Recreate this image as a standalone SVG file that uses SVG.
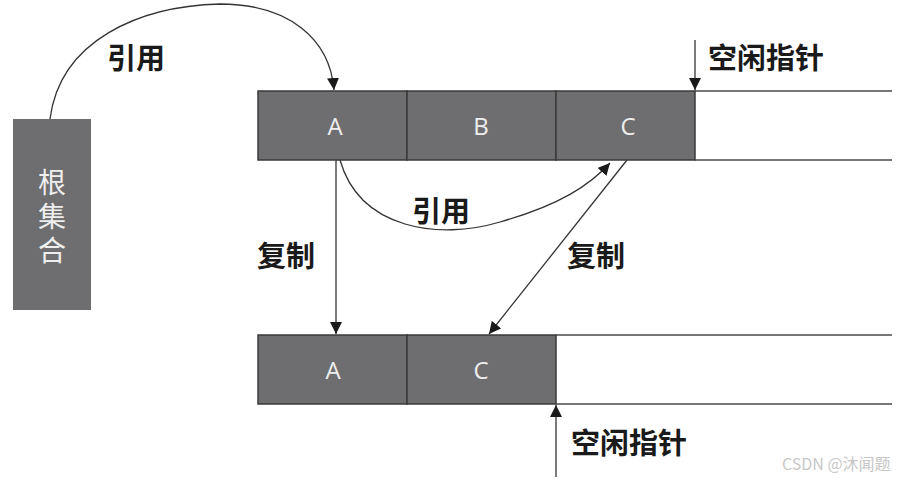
<svg xmlns="http://www.w3.org/2000/svg" width="904" height="479" viewBox="0 0 904 479">
<defs>
<marker id="ah" viewBox="0 0 10 10" refX="10" refY="5" markerWidth="12" markerHeight="12" markerUnits="userSpaceOnUse" orient="auto">
<path d="M0,0 L10,5 L0,10 z" fill="#1a1a1a"/>
</marker>
<style>
.blk{fill:#6e6e70;stroke:#3a3a3a;stroke-width:1.5}
.bt{fill:#eeeeee;font-family:"Open Sans","Liberation Sans",sans-serif;font-size:24px;text-anchor:middle}
.lbl{fill:#1a1a1a;font-family:"Noto Sans CJK SC",sans-serif;font-size:29px;font-weight:bold}
.rt{fill:#eeeeee;font-family:"Noto Sans CJK SC",sans-serif;font-size:28px;text-anchor:middle;writing-mode:vertical-rl;letter-spacing:6px}
.rl{stroke:#777;stroke-width:2;fill:none}
.cn{stroke:#333;stroke-width:1.3;fill:none;marker-end:url(#ah)}
</style>
</defs>
<rect width="904" height="479" fill="#ffffff"/>
<g id="rails">
<line class="rl" x1="695" y1="91" x2="892" y2="91"/>
<line class="rl" x1="695" y1="160" x2="892" y2="160"/>
<line class="rl" x1="556" y1="335" x2="892" y2="335"/>
<line class="rl" x1="556" y1="404" x2="892" y2="404"/>
</g>
<g id="root">
<rect x="13" y="119" width="78" height="191" fill="#6e6e70"/>
<text class="rt" x="52" y="219">根集合</text>
</g>
<g id="topA"><rect class="blk" x="258" y="91" width="149" height="69"/><text class="bt" x="335" y="135">A</text></g>
<g id="topB"><rect class="blk" x="407" y="91" width="149" height="69"/><text class="bt" x="481" y="135">B</text></g>
<g id="topC"><rect class="blk" x="556" y="91" width="139" height="69"/><text class="bt" x="628" y="135">C</text></g>
<g id="botA"><rect class="blk" x="258" y="335" width="149" height="69"/><text class="bt" x="333" y="379">A</text></g>
<g id="botC"><rect class="blk" x="407" y="335" width="149" height="69"/><text class="bt" x="481" y="379">C</text></g>
<g id="connectors">
<path class="cn" d="M50,119 C60,40 140,6 220,4 C290,4 330,40 334,90"/>
<path class="cn" d="M695,40 L695,90"/>
<path class="cn" d="M340,160 C360,230 440,240 500,222 C560,205 590,185 610,163"/>
<path class="cn" d="M336,160 L336,334"/>
<path class="cn" d="M627,160 L489,334"/>
<path class="cn" d="M556,477 L556,405"/>
</g>
<g id="labels">
<text class="lbl" x="107" y="69">引用</text>
<text class="lbl" x="708" y="69">空闲指针</text>
<text class="lbl" x="412" y="222">引用</text>
<text class="lbl" x="257" y="267">复制</text>
<text class="lbl" x="567" y="267">复制</text>
<text class="lbl" x="571" y="454">空闲指针</text>
<text x="782" y="470" style="fill:#c8c8c8;font-family:'Noto Sans CJK SC',sans-serif;font-size:16px">CSDN @沐闻题</text>
</g>
</svg>
